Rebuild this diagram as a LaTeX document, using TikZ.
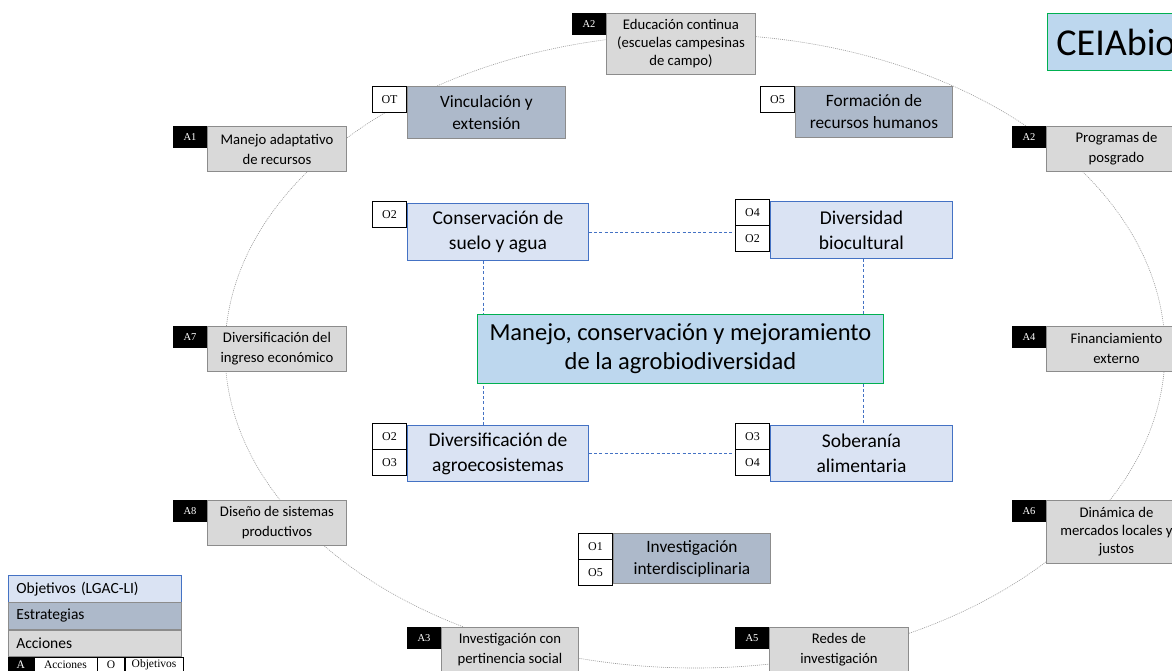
\documentclass[tikz,border=0pt]{standalone}
\usepackage{fontspec}
\setmainfont{Carlito}
\newfontfamily\tagfont{Liberation Serif}
\usetikzlibrary{backgrounds}

\definecolor{actfill}{HTML}{D9D9D9}
\definecolor{actline}{HTML}{8C8C8C}
\definecolor{strfill}{HTML}{ADB9CA}
\definecolor{objfill}{HTML}{DAE3F3}
\definecolor{objline}{HTML}{4472C4}
\definecolor{corefill}{HTML}{BDD7EE}
\definecolor{coreline}{HTML}{00B050}
\definecolor{orbitline}{HTML}{9A9A9A}

\tikzset{
  box/.style={draw, rectangle, inner sep=0pt, align=center, anchor=north west, line width=0.9pt},
  act/.style={box, fill=actfill, draw=actline, font=\fontsize{14.7}{20}\selectfont},
  act3/.style={act, font=\fontsize{14.7}{18}\selectfont},
  strat/.style={box, fill=strfill, draw=actline, font=\fontsize{17.3}{22}\selectfont},
  obj/.style={box, fill=objfill, draw=objline, font=\fontsize{19.5}{25}\selectfont},
  core/.style={box, fill=corefill, draw=coreline, font=\fontsize{24.5}{29}\selectfont},
  atag/.style={box, fill=black, draw=black, text=white, anchor=north east,
    font=\tagfont\fontsize{10.5}{12}\selectfont, minimum width=33, minimum height=21},
  otag/.style={box, fill=white, draw=black, anchor=north east,
    font=\tagfont\fontsize{12}{13}\selectfont, minimum width=34, minimum height=25.5},
  otagb/.style={otag, anchor=north},
  legrow/.style={box, line width=0.8pt, minimum height=26.5, text width=157, inner xsep=8,
    align=left, font=\fontsize{15.5}{17}\selectfont},
  legcell/.style={box, draw=black, line width=0.6pt, minimum height=15.5,
    font=\tagfont\fontsize{11.5}{12}\selectfont},
  conn/.style={draw=objline, line width=0.8pt, dash pattern=on 3pt off 2.2pt},
  orbit/.style={draw=orbitline, line width=0.6pt, dash pattern=on 1pt off 1pt}
}

\begin{document}
\begin{tikzpicture}[x=1pt,y=-1pt]
\useasboundingbox (0,0) rectangle (1172,670);
\clip (0,0) rectangle (1172,670);

% dotted ring of actions
\draw[orbit] (695,351) ellipse [x radius=470pt, y radius=317pt];

% title box
\node[box, fill=corefill, draw=coreline, minimum width=160, minimum height=57,
  text width=150, inner xsep=9, align=left, font=\fontsize{38}{42}\selectfont] (title) at (1047,13) {CEIAbio};

% actions
\node[act3, minimum width=149, minimum height=61] (a2t) at (606,13) {Educación continua\\(escuelas campesinas\\de campo)};
\node[atag] (a2tt) at (a2t.north west) {A2};

\node[act, minimum width=139, minimum height=45] (a1) at (207,126) {Manejo adaptativo\\de recursos};
\node[atag] (a1t) at (a1.north west) {A1};

\node[act, minimum width=140, minimum height=45] (a2r) at (1046,126) {Programas de\\posgrado};
\node[atag] (a2rt) at (a2r.north west) {A2};

\node[act, minimum width=139, minimum height=45] (a7) at (207,326) {Diversificación del\\ingreso económico};
\node[atag] (a7t) at (a7.north west) {A7};

\node[act, minimum width=140, minimum height=45] (a4) at (1046,326) {Financiamiento\\externo};
\node[atag] (a4t) at (a4.north west) {A4};

\node[act, minimum width=139, minimum height=45] (a8) at (207,500) {Diseño de sistemas\\productivos};
\node[atag] (a8t) at (a8.north west) {A8};

\node[act3, minimum width=140, minimum height=63] (a6) at (1046,500) {Dinámica de\\mercados locales y\\justos};
\node[atag] (a6t) at (a6.north west) {A6};

\node[act, minimum width=137, minimum height=45] (a3) at (441,627) {Investigación con\\pertinencia social};
\node[atag] (a3t) at (a3.north west) {A3};

\node[act, minimum width=139, minimum height=45] (a5) at (769,627) {Redes de\\investigación};
\node[atag] (a5t) at (a5.north west) {A5};

% strategies
\node[strat, minimum width=158, minimum height=52] (vinc) at (407,86) {Vinculación y\\extensión};
\node[otag] (vinct) at (vinc.north west) {OT};

\node[strat, minimum width=157, minimum height=51] (form) at (795,86) {Formación de\\recursos humanos};
\node[otag] (formt) at (form.north west) {O5};

\node[strat, minimum width=157, minimum height=50] (inv) at (613,533) {Investigación\\interdisciplinaria};
\node[otag] (invt1) at (inv.north west) {O1};
\node[otagb] (invt2) at (invt1.south) {O5};

% objectives
\node[obj, minimum width=181, minimum height=57] (cons) at (407,203) {Conservación de\\suelo y agua};
\node[otag] (const) at ([yshift=2]cons.north west) {O2};

\node[obj, minimum width=182, minimum height=57] (dbio) at (770,201) {Diversidad\\biocultural};
\node[otag] (dbiot1) at ([yshift=2]dbio.north west) {O4};
\node[otagb] (dbiot2) at (dbiot1.south) {O2};

\node[obj, minimum width=181, minimum height=56] (dagro) at (407,425) {Diversificación de\\agroecosistemas};
\node[otag] (dagrot1) at ([yshift=2]dagro.north west) {O2};
\node[otagb] (dagrot2) at (dagrot1.south) {O3};

\node[obj, minimum width=182, minimum height=56] (sob) at (770,425) {Soberanía\\alimentaria};
\node[otag] (sobt1) at ([yshift=2]sob.north west) {O3};
\node[otagb] (sobt2) at (sobt1.south) {O4};

% central aim
\node[core, minimum width=406, minimum height=69] (core) at (477,314) {Manejo, conservación y mejoramiento\\de la agrobiodiversidad};

% links between objectives
\begin{scope}[on background layer]
  \draw[conn] (cons.east) -- (cons.east -| dbiot1.west);
  \draw[conn] (dagro.east) -- (dagro.east -| sobt1.west);
  \draw[conn] ([xshift=-14.5]cons.south) -- ([xshift=-14.5]dagro.north);
  \draw[conn] ([xshift=2]dbio.south) -- ([xshift=2]sob.north);
\end{scope}

% legend
\node[legrow, fill=objfill, draw=objline] (lobj) at (8,575) {Objetivos (LGAC-LI)};
\node[legrow, fill=strfill, draw=actline] (lstr) at (lobj.south west) {Estrategias};
\node[legrow, fill=actfill, draw=actline] (lact) at (lstr.south west) {Acciones};
\node[legcell, fill=black, text=white, minimum width=25] (lA) at (lact.south west) {A};
\node[legcell, fill=white, minimum width=63] (lAt) at (lA.north east) {Acciones};
\node[legcell, fill=white, minimum width=27] (lO) at (lAt.north east) {O};
\node[legcell, fill=white, minimum width=58] (lOt) at (lO.north east) {Objetivos};
\end{tikzpicture}
\end{document}
